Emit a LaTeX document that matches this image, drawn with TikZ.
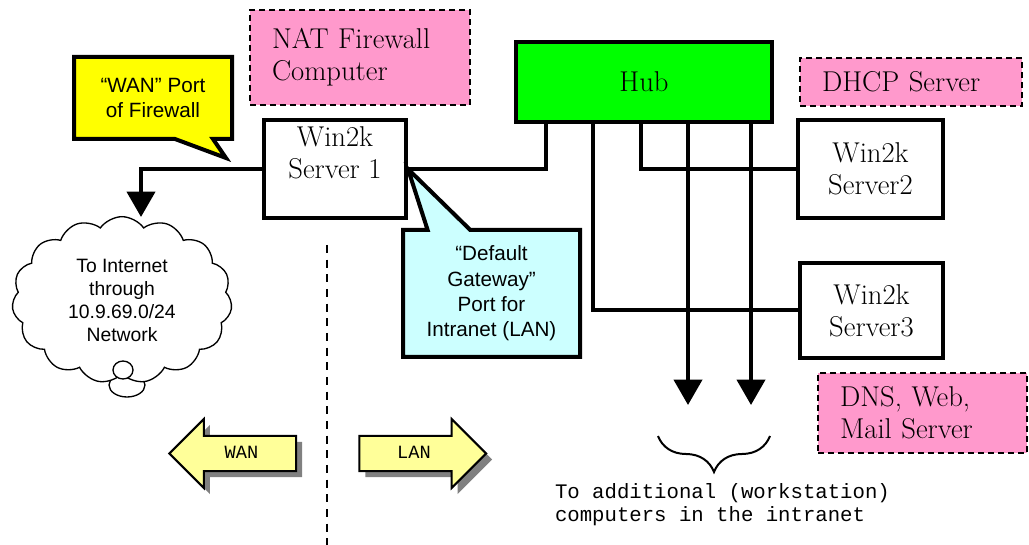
\documentclass[tikz,border=0pt]{standalone}
\usepackage{fontspec}
\setsansfont{Liberation Sans}
\setmonofont{Liberation Mono}
\usepackage{tikz}
\usetikzlibrary{positioning,calc,arrows.meta,shapes.callouts,shapes.symbols,shapes.arrows,shadows,decorations.pathreplacing}
\definecolor{notepink}{HTML}{FF99CC}
\definecolor{hubgreen}{HTML}{00FF00}
\definecolor{wanyellow}{HTML}{FFFF00}
\definecolor{gwcyan}{HTML}{CCFFFF}
\definecolor{arrowyellow}{HTML}{FFFF99}

\begin{document}
\begin{tikzpicture}[x=0.75pt,y=-0.75pt,line width=3pt,
	box/.style={draw,rectangle,fill=white,inner sep=0pt,align=center,font=\fontsize{21.5}{24}\selectfont},
	note/.style={draw,rectangle,fill=notepink,line width=2pt,dash pattern=on 4.5pt off 3pt,inner xsep=16.5pt,inner ysep=0pt,align=left,font=\fontsize{21.5}{24}\selectfont},
	bubble/.style={rectangle callout,draw,inner sep=0pt,align=center,font=\sffamily\fontsize{15.5}{19}\selectfont},
	wire/.style={line width=3pt},
	feed/.style={line width=3pt,-{Triangle[width=21pt,length=19pt]}},
	side/.style={single arrow,draw,fill=arrowyellow,line width=1.5pt,minimum height=95pt,single arrow head extend=12.75pt,text height=9pt,text depth=2pt,inner ysep=6.9pt,font=\ttfamily\fontsize{14}{16}\selectfont,drop shadow={shadow xshift=4.5pt,shadow yshift=-4.5pt,fill=black!50,opacity=1}}]
		\useasboundingbox (0,0) rectangle (1029,545);

		\node[note,text width=132pt,minimum height=71.25pt] (nat) at (360,57.5) {NAT Firewall\\Computer};
		\node[box,fill=hubgreen,minimum width=192pt,minimum height=60pt] (hub) at (644,82) {Hub};
		\node[note,text width=133.5pt,minimum height=36pt] (dhcp) at (911,82) {DHCP Server};
		\node[box,minimum width=106.5pt,minimum height=73.5pt] (s1) at (335,169) {Win2k\\Server 1\\ \mbox{}};
		\node[box,minimum width=108.75pt,minimum height=73.5pt] (s2) at (870.5,169) {Win2k\\Server2};
		\node[box,minimum width=107.25pt,minimum height=71.25pt] (s3) at (871.5,310.5) {Win2k\\Server3};
		\node[note,text width=123.75pt,minimum height=60pt] (dns) at (922.5,413) {DNS, Web,\\Mail Server};

		\coordinate (wanport) at (226,158);
		\coordinate (inet) at (141,217);
		\coordinate (lanend) at (720,405);
		\coordinate (p1) at ([xshift=24pt]hub.south west);
		\coordinate (p2) at ([xshift=59.25pt]hub.south west);
		\coordinate (p3) at ([xshift=95.25pt]hub.south west);
		\coordinate (p4) at ([xshift=130.5pt]hub.south west);
		\coordinate (p5) at ([xshift=177.75pt]hub.south west);

		\node[bubble,fill=wanyellow,minimum width=118.5pt,minimum height=61.5pt,callout pointer width=28.5pt,callout absolute pointer={(wanport)}] (wannote) at (153,98) {``WAN'' Port\\of Firewall};
		\node[bubble,fill=gwcyan,minimum width=132.75pt,minimum height=95.25pt,callout pointer width=32pt,callout absolute pointer={(s1.east)}] (gwnote) at (491.5,293.5) {``Default\\Gateway''\\Port for\\Intranet (LAN)};

		\draw[line width=1pt,fill=white] (127,385) ellipse (18 and 12);
		\node[cloud,cloud puffs=15,cloud puff arc=110,aspect=1.3,draw,fill=white,line width=1pt,minimum width=165pt,minimum height=125pt,align=center,font=\sffamily\fontsize{14.5}{17.25}\selectfont] (cloud) at (122,300) {To Internet\\through\\10.9.69.0/24\\Network};
		\draw[line width=1pt,fill=white] (123,370) ellipse (10 and 9);

		\draw[wire] (s1.east) -| (p1);
		\draw[wire] (p2) |- (s3.west);
		\draw[wire] (p3) |- (s2.west);
		\draw[feed] (p4) -- (p4 |- lanend);
		\draw[feed] (p5) -- (p5 |- lanend);
		\draw[feed] (s1.west) -| (inet);

		\coordinate (divtop) at (327,245);
		\coordinate (divbot) at (327,545);
		\draw[line width=1.5pt,dash pattern=on 6pt off 5pt] (divtop) -- (divbot);

		\node[side,shape border rotate=180] (wan) at (241.5,453.5) {WAN};
		\node[side] (lan) at (414,453.5) {LAN};

		\coordinate (brl) at (658,436);
		\coordinate (brr) at (770,436);
		\draw[line width=1.5pt,decorate,decoration={brace,amplitude=27pt}] (brr) -- (brl);
		\node[anchor=west,align=left,inner sep=0pt,font=\ttfamily\fontsize{15.5}{17.25}\selectfont] (more) at (553,504.5) {To additional (workstation)\\computers in the intranet};
		\end{tikzpicture}
\end{document}
